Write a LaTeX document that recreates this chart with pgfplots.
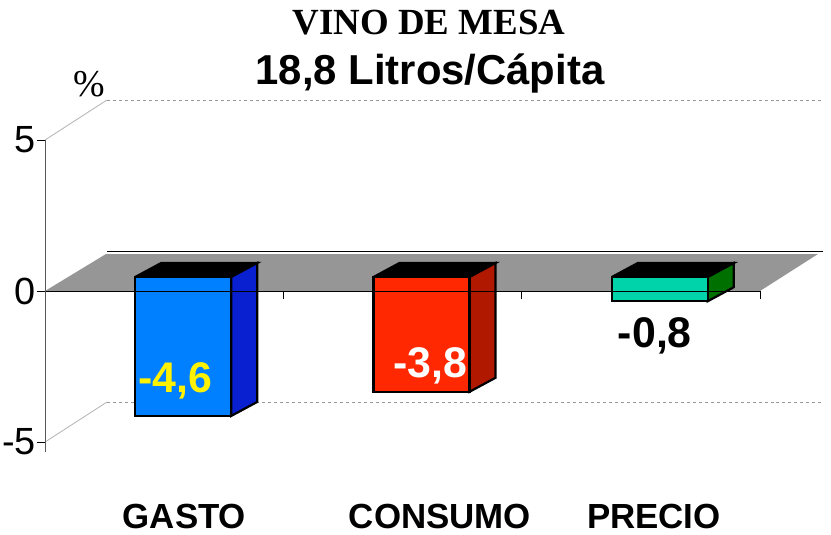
\documentclass[border=0pt]{standalone}
\usepackage{fontspec}
\setmainfont{Liberation Sans}
\newfontfamily\timesf{Liberation Serif}
\usepackage{pgfplots}
\pgfplotsset{compat=1.18}

\definecolor{gastof}{HTML}{0080FF}
\definecolor{gastos}{HTML}{0820D0}
\definecolor{consf}{HTML}{FF2800}
\definecolor{conss}{HTML}{B01800}
\definecolor{precf}{HTML}{00D2AA}
\definecolor{precs}{HTML}{007000}
\definecolor{floorgray}{HTML}{969696}

\pgfplotsset{
  barpos/.style={xshift=19bp,yshift=14bp,line width=2.2bp,draw=black,mark=none},
  vlabel/.style={nodes near coords={\pgfmathprintnumber[fixed,fixed zerofill,precision=1,use comma,assume math mode=true]{\pgfplotspointmeta}},
    every node near coord/.append style={font=\fontsize{43}{43}\selectfont\bfseries,anchor=base,inner sep=0pt,#1}},
}

\begin{document}
\begin{tikzpicture}
\useasboundingbox (0,0) rectangle (831bp,535bp);
% titles
\node[anchor=base,font=\timesf\bfseries\fontsize{37}{37}\selectfont] at (429bp,500bp) {VINO DE MESA};
\node[anchor=base,font=\bfseries\fontsize{42}{42}\selectfont] at (430bp,450bp) {18,8 Litros/Cápita};
\node[font=\timesf\fontsize{38}{38}\selectfont] at (89bp,451bp) {\%};

\begin{axis}[
  at={(45bp,83bp)}, anchor=south west,
  scale only axis, width=715bp, height=312bp,
  xmin=0, xmax=3, ymin=-5.33, ymax=5,
  axis x line=middle, axis y line=left,
  axis line style={-},
  x axis line style={black,line width=1bp},
  y axis line style={black!65,line width=1bp},
  hide obscured x ticks=false, hide obscured y ticks=false,
  axis on top, clip=false,
  tick align=outside, major tick length=8bp,
  tick style={black,line width=1bp},
  ytick={-5,0,5}, yticklabels={-5,0,5},
  yticklabel style={font=\fontsize{38}{38}\selectfont,inner sep=1bp},
  xtick={1,2,3}, xticklabels={,,},
  extra x ticks={0.585,1.657,2.555},
  extra x tick labels={GASTO,CONSUMO,PRECIO},
  extra x tick style={major tick length=0pt,
    xticklabel style={font=\fontsize{35}{35}\selectfont\bfseries,anchor=base,yshift=-237bp}},
]
% floor and back wall
\fill[floorgray] (axis cs:0,0) -- (axis cs:3,0) -- ([shift={(58bp,37bp)}]axis cs:3,0) -- ([shift={(61bp,37bp)}]axis cs:0,0) -- cycle;
\draw[black,line width=1bp] ([shift={(62bp,40bp)}]axis cs:0,0) -- ([shift={(63bp,40bp)}]axis cs:3,0);
\draw[black!40,dashed,line width=0.8bp] ([shift={(62bp,40bp)}]axis cs:0,5) -- ([shift={(62bp,40bp)}]axis cs:3,5);
\draw[black!40,dashed,line width=0.8bp] ([shift={(62bp,40bp)}]axis cs:0,-5) -- ([shift={(62bp,40bp)}]axis cs:3,-5);
\draw[black!30,line width=0.8bp] (axis cs:0,5) -- ([shift={(62bp,40bp)}]axis cs:0,5);
\draw[black!30,line width=0.8bp] (axis cs:0,-5) -- ([shift={(62bp,40bp)}]axis cs:0,-5);

% GASTO -4.6
\addplot[barpos,fill=black] coordinates {(0.2986,0) (0.7014,0) (0.8105,0.4636) (0.4077,0.4636) (0.2986,0)};
\addplot[barpos,fill=gastos] coordinates {(0.7014,0) (0.8105,0.4636) (0.8105,-4.1364) (0.7014,-4.6) (0.7014,0)};
\addplot[barpos,ybar,bar width=96bp,bar shift=0pt,fill=gastof,
  vlabel={text=yellow,xshift=-8bp,yshift=23bp}] coordinates {(0.5,-4.6)};

% CONSUMO -3.8
\addplot[barpos,fill=black] coordinates {(1.2986,0) (1.7014,0) (1.8105,0.4636) (1.4077,0.4636) (1.2986,0)};
\addplot[barpos,fill=conss] coordinates {(1.7014,0) (1.8105,0.4636) (1.8105,-3.3364) (1.7014,-3.8) (1.7014,0)};
\addplot[barpos,ybar,bar width=96bp,bar shift=0pt,fill=consf,
  vlabel={text=white,xshift=9bp,yshift=14bp}] coordinates {(1.5,-3.8)};

% PRECIO -0.8
\addplot[barpos,fill=black] coordinates {(2.2986,0) (2.7014,0) (2.8105,0.4636) (2.4077,0.4636) (2.2986,0)};
\addplot[barpos,fill=precs] coordinates {(2.7014,0) (2.8105,0.4636) (2.8105,-0.3364) (2.7014,-0.8) (2.7014,0)};
\addplot[barpos,ybar,bar width=96bp,bar shift=0pt,fill=precf,
  vlabel={text=black,xshift=-5bp,yshift=-46bp}] coordinates {(2.5,-0.8)};
\end{axis}
\end{tikzpicture}
\end{document}
